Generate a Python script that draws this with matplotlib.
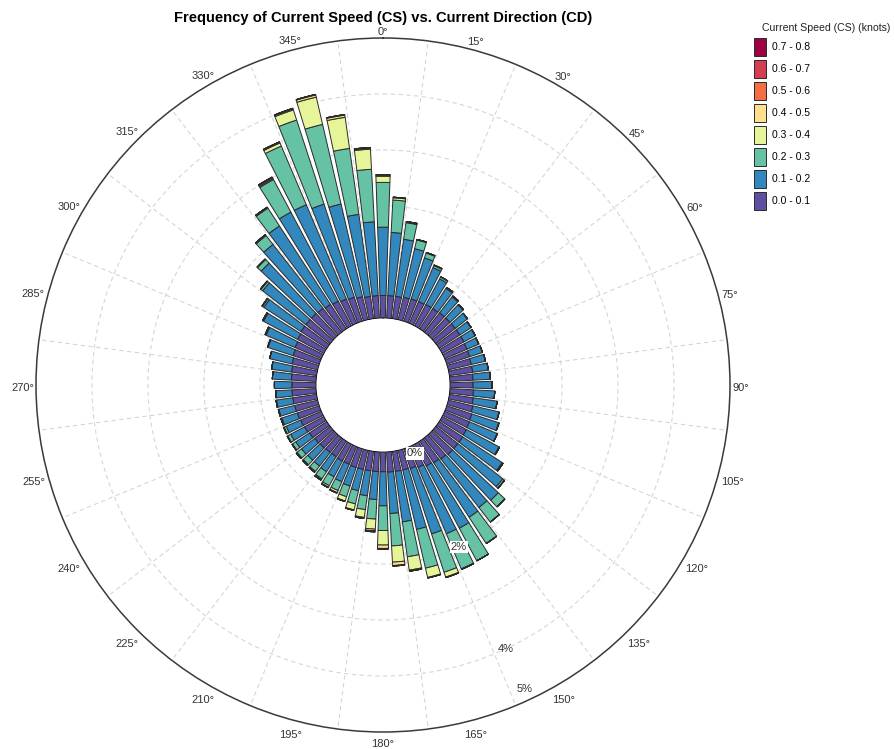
import matplotlib.pyplot as plt
import matplotlib.transforms as mtransforms
import numpy as np

plt.rcParams['font.family'] = ['Liberation Sans', 'DejaVu Sans']

# direction of each bar (degrees, clockwise from north)
directions = np.arange(0, 360, 5)

# frequency (%) per speed class, one value per direction
cs_00_01 = [0.40, 0.40, 0.40, 0.41, 0.42, 0.42, 0.43, 0.43, 0.44, 0.44, 0.44, 0.44,
            0.44, 0.43, 0.43, 0.42, 0.42, 0.41, 0.41, 0.42, 0.43, 0.45, 0.47, 0.48,
            0.49, 0.50, 0.50, 0.50, 0.48, 0.46, 0.44, 0.40, 0.37, 0.36, 0.36, 0.36,
            0.35, 0.35, 0.35, 0.35, 0.35, 0.34, 0.34, 0.33, 0.33, 0.34, 0.35, 0.37,
            0.39, 0.40, 0.41, 0.42, 0.43, 0.43, 0.43, 0.44, 0.45, 0.47, 0.49, 0.51,
            0.53, 0.55, 0.55, 0.55, 0.54, 0.52, 0.50, 0.47, 0.45, 0.42, 0.40, 0.40]
cs_01_02 = [1.22, 1.13, 1.03, 0.89, 0.77, 0.66, 0.52, 0.43, 0.36, 0.32, 0.28, 0.24,
            0.23, 0.23, 0.24, 0.26, 0.28, 0.31, 0.34, 0.38, 0.43, 0.48, 0.51, 0.54,
            0.66, 0.84, 1.02, 1.12, 1.10, 1.16, 1.26, 1.29, 1.23, 1.09, 0.91, 0.74,
            0.61, 0.50, 0.45, 0.39, 0.35, 0.34, 0.32, 0.32, 0.31, 0.30, 0.30, 0.29,
            0.28, 0.28, 0.29, 0.29, 0.29, 0.29, 0.31, 0.34, 0.36, 0.41, 0.47, 0.56,
            0.69, 0.79, 0.98, 1.23, 1.45, 1.67, 1.80, 1.83, 1.75, 1.70, 1.48, 1.32]
cs_02_03 = [0.80, 0.58, 0.30, 0.16, 0.09, 0.04, 0.04, 0.02, 0.02, 0.01, 0.00, 0.00,
            0.00, 0.00, 0.00, 0.00, 0.00, 0.00, 0.00, 0.00, 0.00, 0.00, 0.00, 0.00,
            0.01, 0.02, 0.04, 0.16, 0.33, 0.56, 0.66, 0.68, 0.72, 0.71, 0.63, 0.58,
            0.44, 0.35, 0.25, 0.24, 0.20, 0.17, 0.18, 0.15, 0.12, 0.11, 0.10, 0.07,
            0.06, 0.04, 0.02, 0.01, 0.01, 0.00, 0.00, 0.00, 0.00, 0.00, 0.01, 0.02,
            0.02, 0.03, 0.04, 0.09, 0.20, 0.38, 0.66, 1.14, 1.58, 1.46, 1.19, 0.94]
cs_03_04 = [0.11, 0.04, 0.01, 0.01, 0.01, 0.01, 0.00, 0.00, 0.00, 0.00, 0.00, 0.00,
            0.00, 0.00, 0.00, 0.00, 0.00, 0.00, 0.00, 0.00, 0.00, 0.00, 0.00, 0.00,
            0.00, 0.00, 0.00, 0.00, 0.00, 0.00, 0.00, 0.01, 0.09, 0.17, 0.24, 0.29,
            0.26, 0.18, 0.14, 0.11, 0.08, 0.04, 0.03, 0.02, 0.02, 0.02, 0.01, 0.01,
            0.01, 0.01, 0.00, 0.00, 0.00, 0.00, 0.00, 0.00, 0.00, 0.00, 0.00, 0.00,
            0.00, 0.01, 0.01, 0.01, 0.02, 0.02, 0.02, 0.06, 0.19, 0.50, 0.56, 0.36]
cs_04_05 = [0.02, 0.01, 0.01, 0.00, 0.00, 0.00, 0.00, 0.00, 0.00, 0.00, 0.00, 0.00,
            0.00, 0.00, 0.00, 0.00, 0.00, 0.00, 0.00, 0.00, 0.00, 0.00, 0.00, 0.00,
            0.00, 0.00, 0.00, 0.00, 0.00, 0.00, 0.00, 0.00, 0.01, 0.01, 0.02, 0.06,
            0.06, 0.03, 0.02, 0.01, 0.01, 0.01, 0.01, 0.01, 0.00, 0.00, 0.01, 0.00,
            0.00, 0.00, 0.00, 0.00, 0.00, 0.00, 0.00, 0.00, 0.00, 0.00, 0.00, 0.00,
            0.00, 0.00, 0.00, 0.00, 0.00, 0.00, 0.02, 0.02, 0.02, 0.04, 0.04, 0.02]
cs_05_06 = [0.01, 0.00, 0.00, 0.00, 0.00, 0.00, 0.00, 0.00, 0.00, 0.00, 0.00, 0.00,
            0.00, 0.00, 0.00, 0.00, 0.00, 0.00, 0.00, 0.00, 0.00, 0.00, 0.00, 0.00,
            0.00, 0.00, 0.00, 0.00, 0.00, 0.00, 0.00, 0.00, 0.00, 0.00, 0.00, 0.01,
            0.01, 0.01, 0.00, 0.00, 0.00, 0.00, 0.00, 0.00, 0.00, 0.00, 0.00, 0.00,
            0.00, 0.00, 0.00, 0.00, 0.00, 0.00, 0.00, 0.00, 0.00, 0.00, 0.00, 0.00,
            0.00, 0.00, 0.00, 0.00, 0.00, 0.00, 0.01, 0.00, 0.01, 0.01, 0.01, 0.01]
cs_06_07 = [0.00] * 37 + [0.01] + [0.00] * 34
cs_07_08 = [0.00] * 72

speed_bins = ['0.0 - 0.1', '0.1 - 0.2', '0.2 - 0.3', '0.3 - 0.4',
              '0.4 - 0.5', '0.5 - 0.6', '0.6 - 0.7', '0.7 - 0.8']
colors = ['#5e4fa2', '#3288bd', '#66c2a5', '#e6f598',
          '#fee08b', '#f46d43', '#d53e4f', '#9e0142']
series = [cs_00_01, cs_01_02, cs_02_03, cs_03_04,
          cs_04_05, cs_05_06, cs_06_07, cs_07_08]
angle_labels = list(range(0, 360, 15))

W, H = 894, 749
fig = plt.figure(figsize=(W / 100, H / 100), dpi=100)
# polar area: centre (383, 385) px, outer radius 347 px
ax = fig.add_axes([36 / W, 17 / H, 694 / W, 694 / H], projection='polar')
ax.set_theta_zero_location('N')
ax.set_theta_direction(-1)

theta = np.deg2rad(directions)
width = np.deg2rad(5) * 0.78
bottom = np.zeros(len(directions))
handles = []
for vals, col, lab in zip(series, colors, speed_bins):
    vals = np.array(vals)
    bars = ax.bar(theta, vals, width=width, bottom=bottom, color=col,
                  edgecolor='#2a2a2a', linewidth=0.7, label=lab, zorder=3)
    handles.append(bars)
    bottom = bottom + vals

rmax, r0 = 5, 1.2
ax.set_ylim(0, rmax)
ax.set_rorigin(-r0)
ax.set_axisbelow(True)

ax.set_yticks([1, 2, 3, 4])
ax.set_yticklabels([])
# dashed spokes half-way between the labelled directions
ax.set_xticks(np.deg2rad(angle_labels))
ax.set_xticklabels([])
ax.set_xticks(np.deg2rad(np.arange(7.5, 360, 15)), minor=True)
ax.tick_params(axis='x', which='both', length=0)
grid_kw = dict(color='#d6d6d6', linestyle=(0, (4, 3)), linewidth=0.8)
ax.xaxis.grid(False, which='major')
ax.xaxis.grid(True, which='minor', **grid_kw)
ax.yaxis.grid(True, **grid_kw)
ax.spines['polar'].set_color('#3a3a3a')
ax.spines['polar'].set_linewidth(1.1)
ax.spines['inner'].set_visible(False)

# angle labels just outside the rim (offset in px converted to data units)
px_per_unit = 347 / (rmax + r0)
nudge = ax.transData + mtransforms.ScaledTranslation(0, -0.03, fig.dpi_scale_trans)
for d in angle_labels:
    lab = f'{d}°'
    s, c = abs(np.sin(np.deg2rad(d))), abs(np.cos(np.deg2rad(d)))
    half_w = (6.2 * len(str(d)) + 4.4) / 2
    off = 2 + 2.5 * c + half_w * s + 4.5 * c
    ax.text(np.deg2rad(d), rmax + off / px_per_unit, lab, ha='center', va='center',
            fontsize=8, color='#333333', clip_on=False, transform=nudge)

# radial labels
for r, txt, boxed in [(0.15, '0%', True), (2.0, '2%', True), (4.0, '4%', False), (4.8, '5%', False)]:
    kw = dict(facecolor='white', edgecolor='none', pad=0.8) if boxed else None
    ax.text(np.deg2rad(155), r, txt, ha='center', va='center', fontsize=8,
            color='#333333', bbox=kw, zorder=6)

fig.text(383 / W, 1 - 18 / H,
         'Frequency of Current Speed (CS) vs. Current Direction (CD)',
         ha='center', va='center', fontsize=10.6, fontweight='bold')

fig.text(762 / W, 1 - 28 / H, 'Current Speed (CS) (knots)',
         ha='left', va='center', fontsize=7.6, color='#222222')
fig.legend(handles[::-1], speed_bins[::-1], loc='upper left',
           bbox_to_anchor=(754 / W, 1 - 38 / H), frameon=False, fontsize=7.5,
           handlelength=1.15, handleheight=2.28, labelspacing=0.385,
           handletextpad=0.55, borderpad=0, borderaxespad=0)

fig.savefig('out.png', dpi=100)
